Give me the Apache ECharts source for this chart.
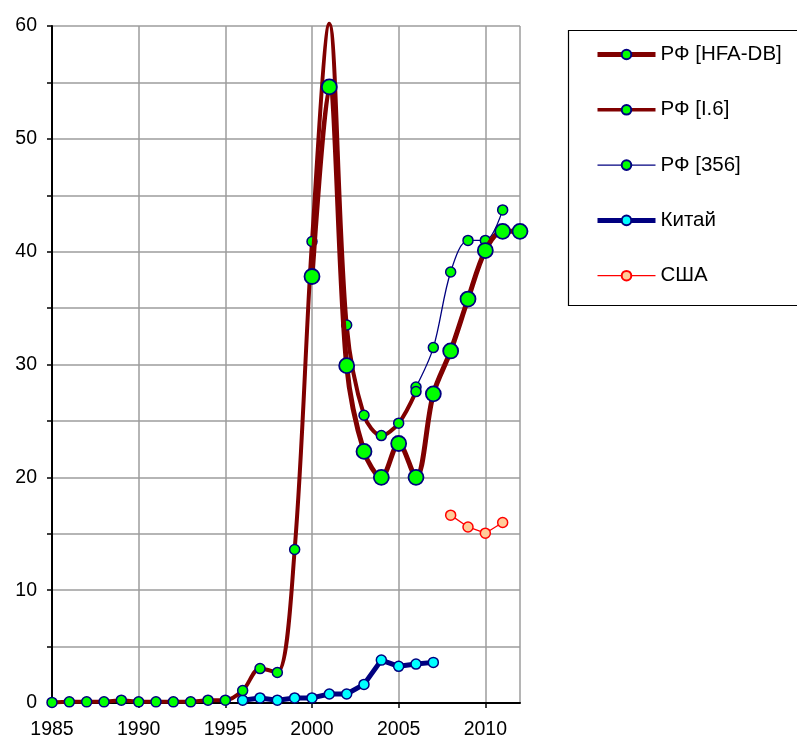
<!DOCTYPE html>
<html>
<head>
<meta charset="utf-8">
<script src="https://cdn.jsdelivr.net/npm/echarts@6/dist/echarts.min.js"></script>
<style>
html,body{margin:0;padding:0;background:#fff;}
#chart{width:797px;height:740px;}
</style>
</head>
<body>
<div id="chart"></div>
<script>
// ---- data ----
const seriesNames = ['РФ [HFA-DB]', 'РФ [I.6]', 'РФ [356]', 'Китай', 'США'];

const yearsHFA = [2000,2001,2002,2003,2004,2005,2006,2007,2008,2009,2010,2011,2012];
const valuesHFA = [37.8,54.6,29.9,22.3,20.0,23.0,20.0,27.4,31.2,35.8,40.1,41.8,41.8];

const yearsI6 = [1985,1986,1987,1988,1989,1990,1991,1992,1993,1994,1995,1996,1997,1998,1999,2000,2001,2002,2003,2004,2005,2006];
const valuesI6 = [0.05,0.1,0.1,0.1,0.25,0.1,0.1,0.1,0.1,0.25,0.25,1.1,3.05,2.7,13.6,40.9,60.2,33.5,25.5,23.7,24.8,27.6];

const years356 = [2006,2007,2008,2009,2010,2011];
const values356 = [28.0,31.5,38.2,41.0,41.0,43.7];

const yearsChina = [1996,1997,1998,1999,2000,2001,2002,2003,2004,2005,2006,2007];
const valuesChina = [0.25,0.45,0.25,0.45,0.45,0.8,0.8,1.65,3.8,3.25,3.45,3.6];

const yearsUSA = [2008,2009,2010,2011];
const valuesUSA = [16.65,15.6,15.05,16.0];

const xTickYears = [1985,1990,1995,2000,2005,2010];
const yTickLabels = [0,10,20,30,40,50,60];

// ---- chart ----
const Y_MAX = 60;
const pairs = (xs, ys) => xs.map((x, i) => [x, ys[i]]);
const FONT = '"Liberation Sans", Arial, sans-serif';

const lineWidths = {};
lineWidths[seriesNames[0]] = 5;
lineWidths[seriesNames[1]] = 3.5;
lineWidths[seriesNames[2]] = 1.3;
lineWidths[seriesNames[3]] = 5;
lineWidths[seriesNames[4]] = 1.3;

const chart = echarts.init(document.getElementById('chart'), null, {renderer: 'canvas'});

const i6Data = pairs(yearsI6, valuesI6).map(p => p[1] > Y_MAX ? {value: p, symbolSize: 0} : p);

chart.setOption({
  animation: false,
  backgroundColor: '#fff',
  grid: {left: 52, right: 277, top: 26, bottom: 34.5, containLabel: false},
  xAxis: {
    type: 'value', min: 1985, max: 2012, interval: 5,
    axisLine: {show: true, onZero: false, lineStyle: {color: '#000', width: 2}},
    axisTick: {show: true, length: 5, lineStyle: {color: '#000', width: 1.5}},
    axisLabel: {
      color: '#000', fontSize: 19.5, fontFamily: FONT, margin: 17,
      showMaxLabel: false,
      formatter: v => xTickYears.indexOf(v) >= 0 ? String(v) : ''
    },
    splitLine: {show: true, lineStyle: {color: '#9d9d9d', width: 1.5}}
  },
  yAxis: {
    type: 'value', min: 0, max: 60, interval: 5,
    axisLine: {show: true, lineStyle: {color: '#000', width: 2}},
    axisTick: {show: true, length: 5, lineStyle: {color: '#000', width: 1.5}},
    axisLabel: {
      color: '#000', fontSize: 19.5, fontFamily: FONT, margin: 15,
      formatter: v => yTickLabels.indexOf(v) >= 0 ? String(v) : ''
    },
    splitLine: {show: true, lineStyle: {color: '#9d9d9d', width: 1.5}}
  },
  legend: {
    orient: 'vertical', left: 590, top: 39,
    itemWidth: 58, itemHeight: 12, itemGap: 34.3,
    textStyle: {color: '#000', fontSize: 20.5, fontFamily: FONT},
    data: seriesNames.map(n => ({name: n, lineStyle: {width: lineWidths[n]}}))
  },
  graphic: [{
    type: 'rect', left: 566, top: 28,
    shape: {width: 230, height: 275},
    style: {fill: 'none', stroke: '#000', lineWidth: 1.2},
    z: 100
  }],
  series: [
    {
      name: seriesNames[2], type: 'line', smooth: 0.33,
      data: pairs(years356, values356),
      symbol: 'circle', symbolSize: 10,
      lineStyle: {color: '#000080', width: lineWidths[seriesNames[2]]},
      itemStyle: {color: '#00ff00', borderColor: '#000080', borderWidth: 1.5},
      z: 3
    },
    {
      name: seriesNames[3], type: 'line', smooth: false,
      data: pairs(yearsChina, valuesChina),
      symbol: 'circle', symbolSize: 10,
      lineStyle: {color: '#000080', width: lineWidths[seriesNames[3]]},
      itemStyle: {color: '#00ffff', borderColor: '#000080', borderWidth: 1.5},
      z: 3
    },
    {
      name: seriesNames[4], type: 'line', smooth: false,
      data: pairs(yearsUSA, valuesUSA),
      symbol: 'circle', symbolSize: 10,
      lineStyle: {color: '#ff0000', width: lineWidths[seriesNames[4]]},
      itemStyle: {color: '#ffcc99', borderColor: '#ff0000', borderWidth: 1.5},
      z: 3
    },
    {
      name: seriesNames[1], type: 'line', smooth: 0.33, clip: false,
      data: i6Data,
      symbol: 'circle', symbolSize: 10,
      lineStyle: {color: '#800000', width: 4},
      itemStyle: {color: '#00ff00', borderColor: '#000080', borderWidth: 1.5},
      z: 4
    },
    {
      name: seriesNames[0], type: 'line', smooth: 0.33,
      data: pairs(yearsHFA, valuesHFA),
      symbol: 'circle', symbolSize: 15,
      lineStyle: {color: '#800000', width: lineWidths[seriesNames[0]]},
      itemStyle: {color: '#00ff00', borderColor: '#000080', borderWidth: 1.8},
      z: 5
    }
  ]
});
</script>
</body>
</html>
